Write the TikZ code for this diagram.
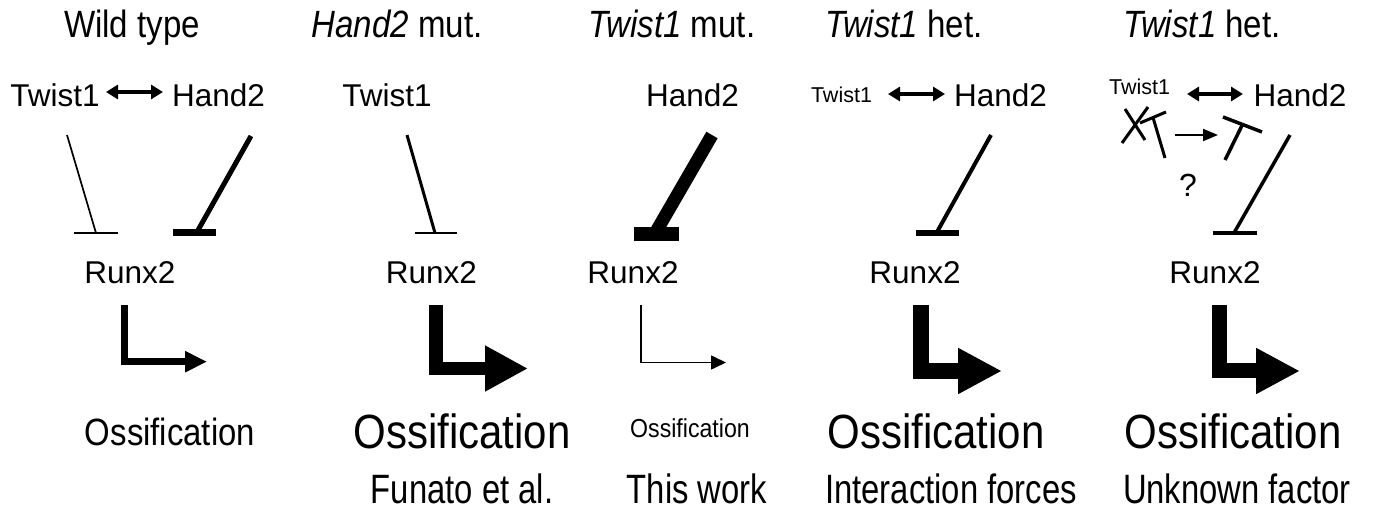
\documentclass[tikz,border=0pt]{standalone}
\usepackage{fontspec}
\usepackage{graphicx}
\setmainfont{Liberation Sans}
\usetikzlibrary{arrows.meta}
\newcommand{\fsz}[1]{\fontsize{#1}{#1}\selectfont}
\newcommand{\cond}[2]{\scalebox{#1}[1]{#2}}
\begin{document}
\begin{tikzpicture}[x=1pt,y=-1pt,
  lbl/.style={inner sep=0pt, anchor=base},
  gene/.style={lbl, font=\fsz{31.5}},
  smallgene/.style={lbl, font=\fsz{21.5}},
  title/.style={lbl},
  foot/.style={lbl, text depth=0pt},
  inh/.style={draw=black, line cap=butt},
  dbl/.style={line width=4pt, {Triangle[length=12pt,width=14pt]}-{Triangle[length=12pt,width=14pt]}},
]
\useasboundingbox[fill=white] (0,0) rectangle (1373,510);

% ---------- titles ----------
\node[title] (t1) at (132,38) {\fsz{38}\cond{0.87}{Wild type}};
\node[title] (t2) at (397,38) {\fsz{38}\cond{0.87}{\textit{Hand2} mut.}};
\node[title] (t3) at (672,38) {\fsz{38}\cond{0.87}{\textit{Twist1} mut.}};
\node[title] (t4) at (904,38) {\fsz{38}\cond{0.87}{\textit{Twist1} het.}};
\node[title] (t5) at (1202,38) {\fsz{38}\cond{0.87}{\textit{Twist1} het.}};

% ---------- panel 1 : wild type ----------
\node[gene] (tw1) at (55,107) {Twist1};
\node[gene] (ha1) at (218.5,107) {Hand2};
\node[gene] (ru1) at (130,284) {Runx2};
\coordinate (d1a) at (106,92); \coordinate (d1b) at (163,92);
\draw[dbl] (d1a) -- (d1b);
\coordinate (i1a) at (67,135); \coordinate (i1b) at (96,233);
\coordinate (b1a) at (74,233); \coordinate (b1b) at (118,233);
\draw[inh, line width=1.7pt] (i1a) -- (i1b);
\draw[inh, line width=1.7pt] (b1a) -- (b1b);
\coordinate (i2a) at (251,136); \coordinate (i2b) at (197,232);
\coordinate (b2a) at (173,233); \coordinate (b2b) at (216,233);
\draw[inh, line width=5pt] (i2a) -- (i2b);
\draw[inh, line width=7pt] (b2a) -- (b2b);
\coordinate (e1a) at (124.5,305); \coordinate (e1b) at (207,361.7);
\draw[line width=7pt, -{Triangle[length=22pt,width=20pt]}] (e1a) |- (e1b);
\node[lbl] (o1) at (170,445) {\fsz{38}\cond{0.866}{Ossification}};

% ---------- panel 2 : Hand2 mut ----------
\node[gene] (tw2) at (387,107) {Twist1};
\node[gene] (ru2) at (431.5,284) {Runx2};
\coordinate (i3a) at (407,135); \coordinate (i3b) at (435,233);
\coordinate (b3a) at (415,233); \coordinate (b3b) at (457,233);
\draw[inh, line width=3pt] (i3a) -- (i3b);
\draw[inh, line width=2.5pt] (b3a) -- (b3b);
\coordinate (e2a) at (436,305); \coordinate (e2b) at (528,368.5);
\draw[line width=13.3pt, -{Triangle[length=43pt,width=43pt]}] (e2a) |- (e2b);
\node[lbl] (o2) at (462,448) {\fsz{48}\cond{0.875}{Ossification}};
\node[foot] (f2) at (462,503) {\fsz{41}\cond{0.8}{Funato et al.}};

% ---------- panel 3 : Twist1 mut ----------
\node[gene] (ha3) at (692.5,107) {Hand2};
\node[gene] (ru3) at (633,284) {Runx2};
\coordinate (i4a) at (712,135); \coordinate (i4b) at (657,230);
\coordinate (b4a) at (634,234); \coordinate (b4b) at (679,234);
\draw[inh, line width=13pt] (i4a) -- (i4b);
\draw[inh, line width=14pt] (b4a) -- (b4b);
\coordinate (e3a) at (641,305); \coordinate (e3b) at (726,362.5);
\draw[line width=1.6pt, -{Triangle[length=15pt,width=14pt]}] (e3a) |- (e3b);
\node[lbl] (o3) at (690,437) {\fsz{26}\cond{0.89}{Ossification}};
\node[foot] (f3) at (697,503) {\fsz{41}\cond{0.8}{This work}};

% ---------- panel 4 : Twist1 het ----------
\node[smallgene] (tw4) at (841.5,103) {Twist1};
\node[gene] (ha4) at (1000.5,107) {Hand2};
\node[gene] (ru4) at (915,284) {Runx2};
\coordinate (d4a) at (888,94); \coordinate (d4b) at (945,94);
\draw[dbl] (d4a) -- (d4b);
\coordinate (i5a) at (991,135); \coordinate (i5b) at (937,232);
\coordinate (b5a) at (916,233); \coordinate (b5b) at (959,233);
\draw[inh, line width=4pt] (i5a) -- (i5b);
\draw[inh, line width=6pt] (b5a) -- (b5b);
\coordinate (e4a) at (921,305); \coordinate (e4b) at (1002,371);
\draw[line width=16pt, -{Triangle[length=44pt,width=43pt]}] (e4a) |- (e4b);
\node[lbl] (o4) at (936,448) {\fsz{48}\cond{0.875}{Ossification}};
\node[foot] (f4) at (951,503) {\fsz{41}\cond{0.8}{Interaction forces}};

% ---------- panel 5 : Twist1 het, unknown factor ----------
\node[smallgene] (tw5) at (1139.5,95) {Twist1};
\node[gene] (ha5) at (1300,107) {Hand2};
\node[gene] (ru5) at (1215,284) {Runx2};
\coordinate (d5a) at (1187,94); \coordinate (d5b) at (1243,94);
\draw[dbl] (d5a) -- (d5b);
% crossed-out inhibitor
\coordinate (x1a) at (1122,143); \coordinate (x1b) at (1148,107);
\coordinate (x2a) at (1125,109); \coordinate (x2b) at (1145,140);
\draw[inh, line width=3pt] (x1a) -- (x1b);
\draw[inh, line width=3pt] (x2a) -- (x2b);
\coordinate (s1a) at (1140,123); \coordinate (s1b) at (1166,112);
\coordinate (s1c) at (1153,117.5); \coordinate (s1d) at (1165,158);
\draw[inh, line width=3pt] (s1a) -- (s1b);
\draw[inh, line width=3pt] (s1c) -- (s1d);
\coordinate (a5a) at (1175,135); \coordinate (a5b) at (1218,135);
\draw[line width=2pt, -{Triangle[length=15pt,width=12pt]}] (a5a) -- (a5b);
\coordinate (s2a) at (1223,117); \coordinate (s2b) at (1262,132);
\coordinate (s2c) at (1242.5,124.5); \coordinate (s2d) at (1225,160);
\draw[inh, line width=3.5pt] (s2a) -- (s2b);
\draw[inh, line width=3.5pt] (s2c) -- (s2d);
\node[lbl] (q5) at (1188,197) {\fsz{32}?};
\coordinate (i6a) at (1290,135); \coordinate (i6b) at (1234,233);
\coordinate (b6a) at (1213,233); \coordinate (b6b) at (1257,233);
\draw[inh, line width=3.5pt] (i6a) -- (i6b);
\draw[inh, line width=3.5pt] (b6a) -- (b6b);
\coordinate (e5a) at (1219.5,305); \coordinate (e5b) at (1300,371);
\draw[line width=15pt, -{Triangle[length=44pt,width=43pt]}] (e5a) |- (e5b);
\node[lbl] (o5) at (1233,448) {\fsz{48}\cond{0.875}{Ossification}};
\node[foot] (f5) at (1237,503) {\fsz{41}\cond{0.8}{Unknown factor}};
\end{tikzpicture}
\end{document}
